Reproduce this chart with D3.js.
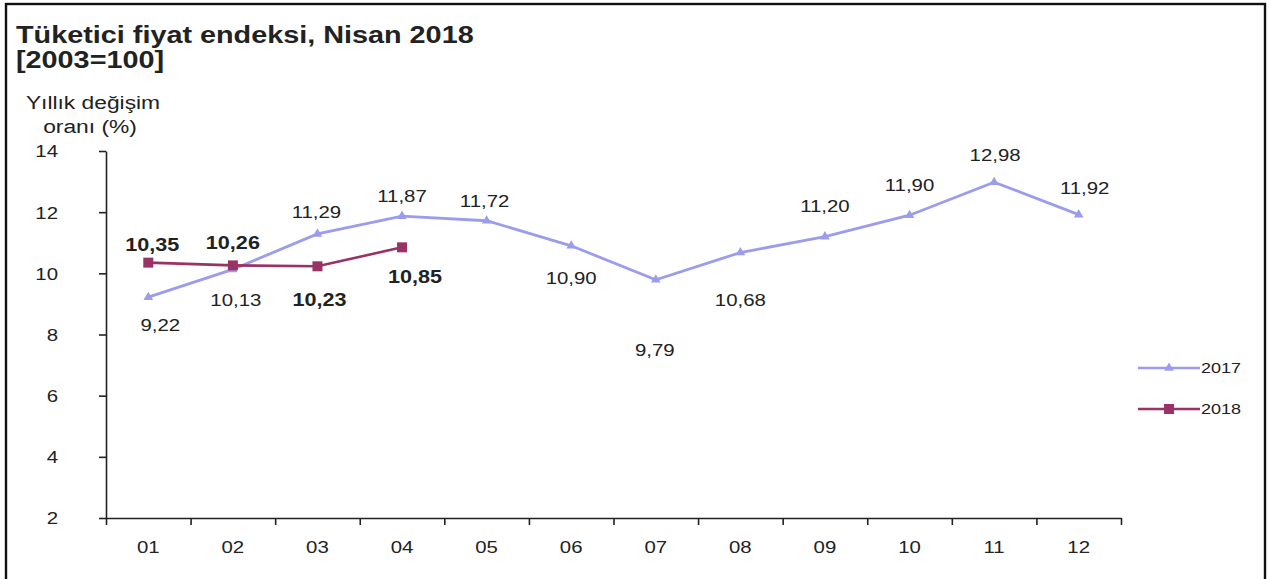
<html>
<head>
<meta charset="utf-8">
<title>Tüketici fiyat endeksi</title>
<style>
body { margin: 0; background: #fff; }
svg text { font-family: 'Liberation Sans', Arial, sans-serif; fill: #222; }
.axis path, .axis line { stroke: #222; stroke-width: 1.6; }
.title { font-weight: bold; font-size: 24px; }
.ytitle { font-size: 19px; }
.tick-lbl { font-size: 17px; }
.lbl2017 { font-size: 17px; }
.lbl2018 { font-size: 18px; font-weight: bold; }
.legend text { font-size: 15px; }
</style>
</head>
<body>
<svg id="plot" width="1269" height="579"></svg>

<script src="https://cdnjs.cloudflare.com/ajax/libs/d3/7.8.5/d3.min.js"></script>
<script>
// data
const months = ['01', '02', '03', '04', '05', '06', '07', '08', '09', '10', '11', '12'];
const values2017 = [9.22, 10.13, 11.29, 11.87, 11.72, 10.90, 9.79, 10.68, 11.20, 11.90, 12.98, 11.92];
const values2018 = [10.35, 10.26, 10.23, 10.85];
const yTicks = [2, 4, 6, 8, 10, 12, 14];
const seriesNames = ['2017', '2018'];

// label nudges, as placed by hand in the original
const offsets2017 = [[12, 28], [3, 31], [-1, -22], [0, -20], [-2, -20], [0, 32], [-1, 70], [0, 47], [0, -31], [0, -30], [1, -27], [6, -27]];
const offsets2018 = [[4, -18], [0, -22], [2, 34], [13, 30]];

const SX = 1.2;  // the source picture is stretched sideways
const svg = d3.select('#plot');
const fmt = v => v.toFixed(2).replace('.', ',');

function put(sel, x, y) {
  return sel.attr('x', 0).attr('y', 0)
    .attr('transform', `translate(${x},${y}) scale(${SX},1)`);
}

// frame
svg.append('rect')
  .attr('x', 6).attr('y', 4).attr('width', 1259).attr('height', 620)
  .attr('fill', 'none').attr('stroke', '#111').attr('stroke-width', 2.4);

// titles
put(svg.append('text').attr('class', 'title').text('Tüketici fiyat endeksi, Nisan 2018'), 16, 43);
put(svg.append('text').attr('class', 'title').text('[2003=100]'), 16, 68);
put(svg.append('text').attr('class', 'ytitle').attr('text-anchor', 'middle').text('Yıllık değişim'), 93, 109);
put(svg.append('text').attr('class', 'ytitle').attr('text-anchor', 'middle').text('oranı (%)'), 90, 133);

const x = d3.scaleBand().domain(months).range([106, 1121]);
const xEdge = d3.scaleLinear().domain([0, months.length]).range([106, 1121]);
const y = d3.scaleLinear().domain([2, 14]).range([518, 151]);

// y axis
const gy = svg.append('g').attr('class', 'axis').attr('transform', 'translate(106,0)')
  .call(d3.axisLeft(y).tickValues(yTicks).tickSize(7).tickSizeOuter(0).tickFormat(d3.format('d')));
gy.selectAll('text').attr('class', 'tick-lbl').attr('fill', '#222')
  .attr('dy', '0.35em')
  .attr('x', 0)
  .attr('transform', `translate(-48,0) scale(${SX},1)`);

// x axis: ticks on category edges, labels centred
svg.append('g').attr('class', 'axis').attr('transform', 'translate(0,518)')
  .call(d3.axisBottom(xEdge).tickValues(d3.range(months.length + 1)).tickSize(7).tickSizeOuter(0).tickFormat(''));
const gx = svg.append('g').attr('transform', 'translate(0,518)')
  .call(d3.axisBottom(x).tickSize(0));
gx.select('.domain').remove();
gx.selectAll('text').attr('class', 'tick-lbl').attr('fill', '#222')
  .attr('y', 0).attr('dy', 0)
  .attr('transform', `translate(0,35) scale(${SX},1)`);

const cx = (d, i) => x(months[i]) + x.bandwidth() / 2;
const line = d3.line().x((d, i) => cx(d, i)).y(d => y(d));
const colors = ['#9c9cec', '#993366'];

// 2017
svg.append('path').datum(values2017)
  .attr('d', line).attr('fill', 'none').attr('stroke', colors[0]).attr('stroke-width', 2.8);
svg.selectAll('.tri').data(values2017).join('path').attr('class', 'tri')
  .attr('d', d3.symbol(d3.symbolTriangle, 40))
  .attr('transform', (d, i) => `translate(${cx(d, i)},${y(d)})`)
  .attr('fill', colors[0]);

// 2018
svg.append('path').datum(values2018)
  .attr('d', line).attr('fill', 'none').attr('stroke', colors[1]).attr('stroke-width', 2.6);
svg.selectAll('.sq').data(values2018).join('rect').attr('class', 'sq')
  .attr('x', (d, i) => cx(d, i) - 5).attr('y', d => y(d) - 5)
  .attr('width', 10).attr('height', 10)
  .attr('fill', colors[1]);

// value labels
svg.selectAll('.lbl2017').data(values2017).join('text').attr('class', 'lbl2017')
  .attr('text-anchor', 'middle').text(fmt)
  .attr('transform', (d, i) => `translate(${cx(d, i) + offsets2017[i][0]},${y(d) + offsets2017[i][1] + 6}) scale(${SX},1)`);
svg.selectAll('.lbl2018').data(values2018).join('text').attr('class', 'lbl2018')
  .attr('text-anchor', 'middle').text(fmt)
  .attr('transform', (d, i) => `translate(${cx(d, i) + offsets2018[i][0]},${y(d) + offsets2018[i][1] + 6}) scale(${SX},1)`);

// legend
const legend = svg.append('g').attr('class', 'legend');
seriesNames.forEach((name, i) => {
  const ly = 368 + i * 41;
  legend.append('line').attr('x1', 1138).attr('x2', 1200).attr('y1', ly).attr('y2', ly)
    .attr('stroke', colors[i]).attr('stroke-width', 2.6);
  if (i === 0) {
    legend.append('path').attr('d', d3.symbol(d3.symbolTriangle, 40))
      .attr('transform', `translate(1169,${ly})`).attr('fill', colors[i]);
  } else {
    legend.append('rect').attr('x', 1164).attr('y', ly - 5).attr('width', 10).attr('height', 10)
      .attr('fill', colors[i]);
  }
  put(legend.append('text').text(name), 1201, ly + 5);
});
</script>
</body>
</html>
